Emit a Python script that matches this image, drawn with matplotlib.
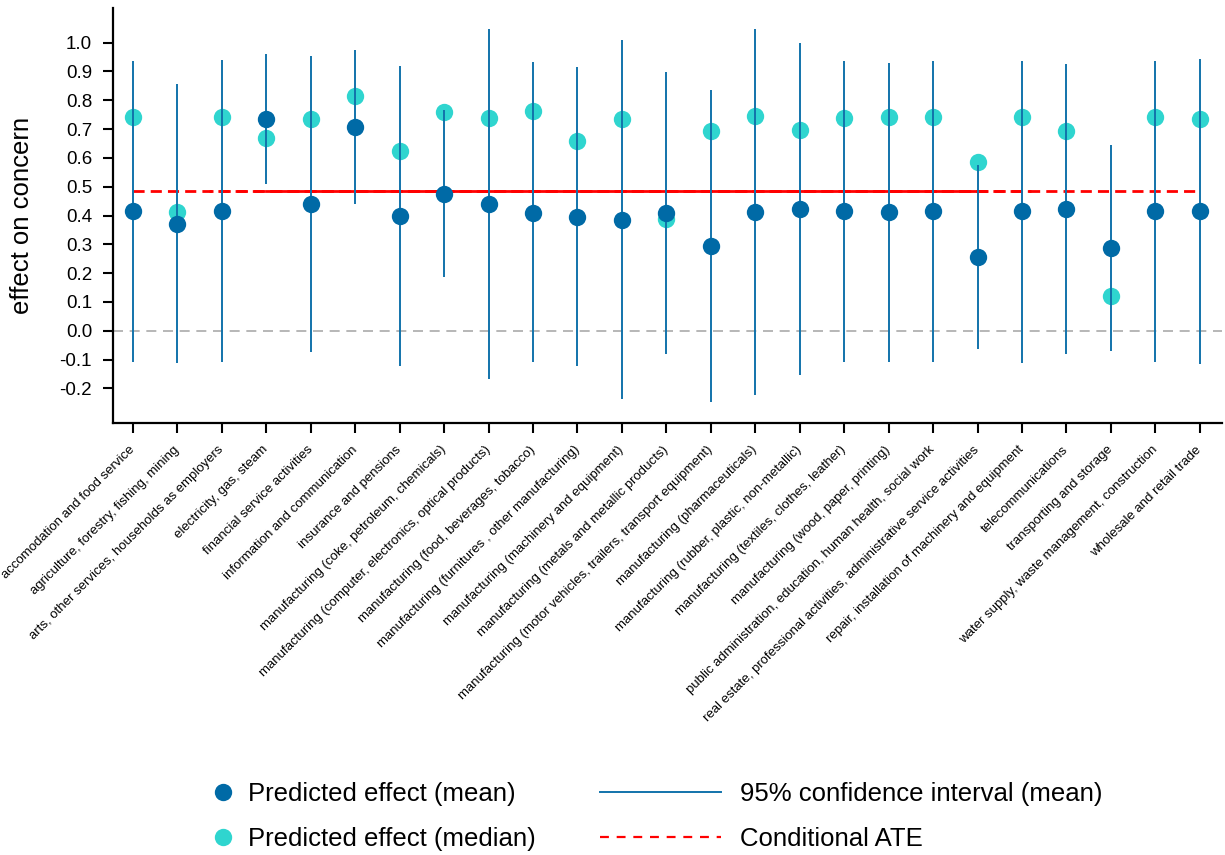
import matplotlib
matplotlib.use("Agg")
import matplotlib.pyplot as plt
from matplotlib.lines import Line2D
import numpy as np

plt.rcParams["font.family"] = ["Liberation Sans", "DejaVu Sans"]
plt.rcParams["axes.unicode_minus"] = False

categories = [
    "accomodation and food service",
    "agriculture, forestry, fishing, mining",
    "arts, other services, households as employers",
    "electricity, gas, steam",
    "financial service activities",
    "information and communication",
    "insurance and pensions",
    "manufacturing (coke, petroleum, chemicals)",
    "manufacturing (computer, electronics, optical products)",
    "manufacturing (food, beverages, tobacco)",
    "manufacturing (furnitures , other manufacturing)",
    "manufacturing (machinery and equipment)",
    "manufacturing (metals and metallic products)",
    "manufacturing (motor vehicles, trailers, transport equipment)",
    "manufacturing (pharmaceuticals)",
    "manufacturing (rubber, plastic, non-metallic)",
    "manufacturing (textiles, clothes, leather)",
    "manufacturing (wood, paper, printing)",
    "public administration, education, human health, social work",
    "real estate, professional activities, administrative service activities",
    "repair, installation of machinery and equipment",
    "telecommunications",
    "transporting and storage",
    "water supply, waste management, construction",
    "wholesale and retail trade",
]
mean_effect = [0.415, 0.372, 0.415, 0.734, 0.439, 0.708, 0.399, 0.475, 0.439, 0.410,
               0.396, 0.384, 0.408, 0.294, 0.412, 0.421, 0.415, 0.411, 0.416, 0.256,
               0.415, 0.421, 0.287, 0.416, 0.415]
median_effect = [0.741, 0.411, 0.741, 0.669, 0.736, 0.815, 0.623, 0.759, 0.740, 0.763,
                 0.658, 0.734, 0.388, 0.693, 0.744, 0.696, 0.739, 0.741, 0.743, 0.586,
                 0.743, 0.694, 0.119, 0.742, 0.734]
ci_low = [-0.108, -0.111, -0.110, 0.508, -0.074, 0.441, -0.122, 0.188, -0.169, -0.108,
          -0.122, -0.238, -0.081, -0.248, -0.222, -0.154, -0.108, -0.108, -0.107, -0.065,
          -0.111, -0.082, -0.070, -0.107, -0.116]
ci_high = [0.936, 0.857, 0.940, 0.960, 0.954, 0.975, 0.920, 0.766, 1.048, 0.932,
           0.916, 1.009, 0.898, 0.836, 1.046, 0.998, 0.936, 0.930, 0.936, 0.575,
           0.937, 0.926, 0.645, 0.936, 0.943]
ate = 0.485

C_MEAN = "#006aa6"
C_MEDIAN = "#2fd5cf"
C_CI = "#1273ab"
C_ATE = "#ff0000"

fig = plt.figure(figsize=(12.25, 8.55), dpi=100)
ax = fig.add_axes([0.0922, 0.5053, 0.9054, 0.4853])

x = np.arange(len(categories))
n = len(categories)

ax.axhline(0, color="#aaaaaa", lw=1.2, ls=(0, (6, 4)), zorder=0)
ax.plot(x, median_effect, "o", color=C_MEDIAN, ms=12.5, mec="none", zorder=2)
ax.vlines(x, ci_low, ci_high, color=C_CI, lw=1.4, zorder=3)
ax.plot(x, mean_effect, "o", color=C_MEAN, ms=12.5, mec="none", zorder=4)

# ATE: overlapping dashed segments, denser toward the middle
ax.plot([x[0], x[-1]], [ate, ate], color=C_ATE, lw=2, ls=(0, (4, 2.2)), zorder=1)
ax.plot([x[0] + 1.7, x[-1] - 3.8], [ate, ate], color=C_ATE, lw=2, ls=(3, (4, 2.2)), zorder=1)
ax.plot([x[0] + 3, x[-1] - 4.8], [ate, ate], color=C_ATE, lw=2, ls="-", zorder=1)

ax.set_xlim(-0.45, n - 0.5)
ax.set_ylim(-0.32, 1.12)
yt = np.round(np.arange(-0.2, 1.01, 0.1), 1)
ax.set_yticks(yt)
ax.set_yticklabels([f"{v:.1f}" for v in yt])
ax.set_xticks(x)
ax.set_xticklabels(categories, rotation=45, ha="right", va="center",
                   rotation_mode="anchor", fontsize=9.5)
ax.tick_params(axis="x", length=7, width=1.5, pad=11)
ax.tick_params(axis="y", length=7, width=1.5, labelsize=13.5, pad=8)
for s in ["top", "right"]:
    ax.spines[s].set_visible(False)
for s in ["left", "bottom"]:
    ax.spines[s].set_linewidth(1.6)
ax.set_ylabel("effect on concern", fontsize=18.5, labelpad=18)

h_mean = Line2D([], [], marker="o", ls="none", color=C_MEAN, ms=12.5, mec="none")
h_med = Line2D([], [], marker="o", ls="none", color=C_MEDIAN, ms=12.5, mec="none")
h_ci = Line2D([], [], color=C_CI, lw=1.4)
h_ate = Line2D([], [], color=C_ATE, lw=1.6, ls=(0, (4, 3.5)))

leg_kw = dict(loc="upper left", frameon=False, fontsize=18.5, labelspacing=0.82,
              borderpad=0, borderaxespad=0)
fig.legend([h_mean, h_med], ["Predicted effect (mean)", "Predicted effect (median)"],
           bbox_to_anchor=(213 / 1225, 1 - 782 / 855), handlelength=0.8,
           handletextpad=0.55, **leg_kw)
fig.legend([h_ci, h_ate], ["95% confidence interval (mean)", "Conditional ATE"],
           bbox_to_anchor=(600 / 1225, 1 - 782 / 855), handlelength=4.7,
           handletextpad=0.75, **leg_kw)

fig.savefig("out.png", dpi=100)
